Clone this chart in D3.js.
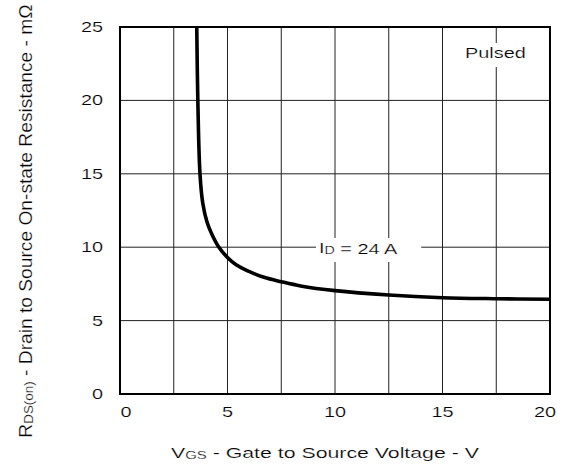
<!DOCTYPE html>
<html>
<head>
<meta charset="utf-8">
<script src="https://cdn.jsdelivr.net/npm/d3@7"></script>
<style>
  body { margin: 0; background: #fff; }
  svg { display: block; font-family: "Liberation Sans", Arial, sans-serif; }
  text { fill: #000; stroke: #fff; stroke-width: 0.2px; }
</style>
</head>
<body>
<div class="box"></div>
<script>
// data
const vgs = [3.57, 3.62, 3.72, 3.85, 4.05, 4.3, 4.6, 5.0, 5.4, 6.0, 6.7, 7.5, 8.4, 10, 12.5, 15, 17.5, 20]
const rds = [25, 20, 15, 13, 11.7, 10.8, 10, 9.3, 8.8, 8.35, 7.95, 7.65, 7.36, 7.04, 6.74, 6.56, 6.49, 6.45]
const xTicks = [0, 5, 10, 15, 20]
const yTicks = [0, 5, 10, 15, 20, 25]
const xGrid = [2.5, 5, 7.5, 10, 12.5, 15, 17.5]
const yGrid = [5, 10, 15, 20]

const W = 573, H = 470
const SX = 1.42 // text in the picture is wide

let svg = d3.select('.box').append('svg')
    .attr('width', W)
    .attr('height', H)

let x = d3.scaleLinear().domain([0, 20]).range([120, 550])
let y = d3.scaleLinear().domain([0, 25]).range([394, 27])

// grid
svg.append('g').selectAll('line').data(xGrid).join('line')
    .attr('x1', d => x(d)).attr('x2', d => x(d))
    .attr('y1', y(0)).attr('y2', y(25))
    .attr('stroke', '#222').attr('stroke-width', 1)
svg.append('g').selectAll('line').data(yGrid).join('line')
    .attr('x1', x(0)).attr('x2', x(20))
    .attr('y1', d => y(d)).attr('y2', d => y(d))
    .attr('stroke', '#222').attr('stroke-width', 1)

// draw text stretched sideways, anchored at (px, py)
let wide = (g, px, py, sx) => {
    return g.append('text')
        .attr('transform', `translate(${px},${py}) scale(${sx},1)`)
}

// labels with white boxes
let addLabel = (px, py, parts, pad) => {
    let g = svg.append('g')
    let rect = g.append('rect').attr('fill', '#fff')
    let t = wide(g, px, py, SX).attr('font-size', 14)
    for (let p of parts) {
        if (p.sub) {
            t.append('tspan').attr('font-size', 10).attr('dy', 1).text(p.s)
            t.append('tspan').attr('dy', -1).text('')
        } else {
            t.append('tspan').text(p.s)
        }
    }
    let w = t.node().getComputedTextLength() * SX
    rect.attr('x', px - pad[0]).attr('y', py - 15)
        .attr('width', w + pad[0] + pad[1]).attr('height', 24)
}
addLabel(319, 253, [{s: 'I'}, {s: 'D', sub: true}, {s: ' = 24 A'}], [3, 24])
addLabel(465, 58, [{s: 'Pulsed'}], [8, 8])

// curve
svg.append('clipPath').attr('id', 'clip')
    .append('rect').attr('x', x(0)).attr('y', y(25))
    .attr('width', x(20) - x(0)).attr('height', y(0) - y(25))

let pts = vgs.map((v, i) => [v, rds[i]])
let line = d3.line()
    .x(d => x(d[0]))
    .y(d => y(d[1]))
    .curve(d3.curveCatmullRom.alpha(0.5))
svg.append('path')
    .attr('d', line(pts))
    .attr('clip-path', 'url(#clip)')
    .attr('fill', 'none')
    .attr('stroke', '#000')
    .attr('stroke-width', 3.6)
    .attr('stroke-linejoin', 'round')

// frame
svg.append('rect')
    .attr('x', x(0)).attr('y', y(25))
    .attr('width', x(20) - x(0)).attr('height', y(0) - y(25))
    .attr('fill', 'none').attr('stroke', '#000').attr('stroke-width', 2)

// tick labels
for (let v of yTicks) {
    wide(svg, 103, y(v) + 5, SX)
        .attr('text-anchor', 'end')
        .attr('font-size', 14)
        .text(v)
}
for (let v of xTicks) {
    let shift = v == 0 ? 6 : v == 20 ? -5 : 0
    wide(svg, x(v) + shift, 417, SX)
        .attr('text-anchor', 'middle')
        .attr('font-size', 14)
        .text(v)
}

// x title
let xt = wide(svg, 325, 458, SX)
    .attr('text-anchor', 'middle')
    .attr('font-size', 15)
xt.append('tspan').text('V')
xt.append('tspan').attr('font-size', 10.5).attr('dy', 1).text('GS')
xt.append('tspan').attr('dy', -1).text(' - Gate to Source Voltage - V')

// y title
let yt = svg.append('text')
    .attr('transform', `translate(32,221) rotate(-90) scale(1.28,${SX * 0.82})`)
    .attr('text-anchor', 'middle')
    .attr('font-size', 15)
yt.append('tspan').text('R')
yt.append('tspan').attr('font-size', 10.5).attr('dy', 1).text('DS(on)')
yt.append('tspan').attr('dy', -1).text(' - Drain to Source On-state Resistance - mΩ')
</script>
</body>
</html>
